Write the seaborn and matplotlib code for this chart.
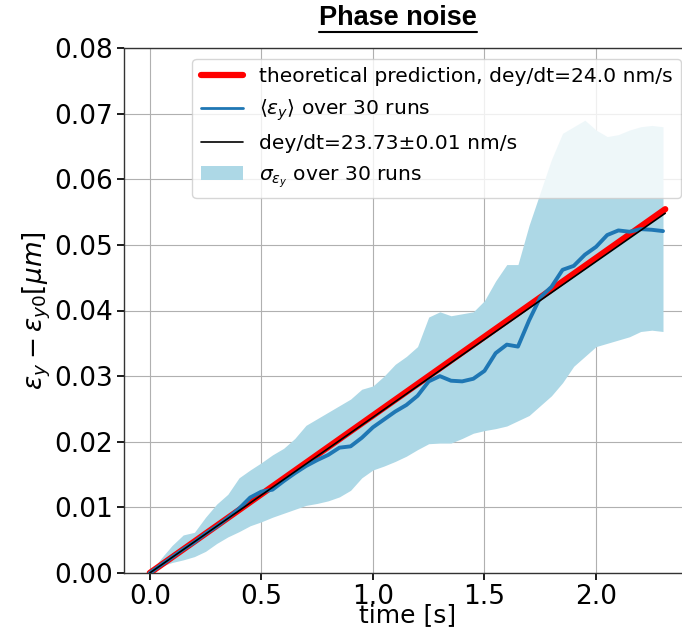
import numpy as np
import pandas as pd
import matplotlib
matplotlib.use("Agg")
import matplotlib.pyplot as plt
import seaborn as sns
from matplotlib.lines import Line2D
from matplotlib.patches import Patch

# ---- data ----
time_s = [0.00, 0.05, 0.10, 0.15, 0.20, 0.25, 0.30, 0.35, 0.40, 0.45,
          0.50, 0.55, 0.60, 0.65, 0.70, 0.75, 0.80, 0.85, 0.90, 0.95,
          1.00, 1.05, 1.10, 1.15, 1.20, 1.25, 1.30, 1.35, 1.40, 1.45,
          1.50, 1.55, 1.60, 1.65, 1.70, 1.75, 1.80, 1.85, 1.90, 1.95,
          2.00, 2.05, 2.10, 2.15, 2.20, 2.25, 2.30]
mean_eps = [0.0000, 0.0012, 0.0024, 0.0036, 0.0047, 0.0060, 0.0071, 0.0084, 0.0098, 0.0115,
            0.0124, 0.0127, 0.0140, 0.0152, 0.0163, 0.0172, 0.0180, 0.0191, 0.0193, 0.0206,
            0.0222, 0.0234, 0.0246, 0.0256, 0.0270, 0.0292, 0.0300, 0.0293, 0.0292, 0.0296,
            0.0308, 0.0335, 0.0348, 0.0345, 0.0385, 0.0420, 0.0436, 0.0462, 0.0468, 0.0485,
            0.0497, 0.0515, 0.0522, 0.0520, 0.0524, 0.0523, 0.0521]
band_upper = [0.0000, 0.0022, 0.0042, 0.0058, 0.0062, 0.0085, 0.0105, 0.0120, 0.0145, 0.0157,
              0.0168, 0.0180, 0.0190, 0.0205, 0.0225, 0.0235, 0.0245, 0.0255, 0.0265, 0.0280,
              0.0285, 0.0300, 0.0318, 0.0330, 0.0345, 0.0390, 0.0398, 0.0392, 0.0395, 0.0398,
              0.0415, 0.0445, 0.0470, 0.0470, 0.0530, 0.0580, 0.0630, 0.0670, 0.0680, 0.0690,
              0.0675, 0.0665, 0.0668, 0.0675, 0.0680, 0.0682, 0.0680]
band_lower = [0.0000, 0.0010, 0.0016, 0.0020, 0.0025, 0.0033, 0.0045, 0.0055, 0.0063, 0.0072,
              0.0078, 0.0085, 0.0091, 0.0097, 0.0103, 0.0106, 0.0110, 0.0116, 0.0126, 0.0145,
              0.0157, 0.0163, 0.0170, 0.0178, 0.0188, 0.0197, 0.0198, 0.0198, 0.0205, 0.0213,
              0.0217, 0.0220, 0.0224, 0.0232, 0.0240, 0.0255, 0.0270, 0.0290, 0.0315, 0.0330,
              0.0345, 0.0350, 0.0355, 0.0360, 0.0368, 0.0370, 0.0368]
line_t = [0.0, 2.31]
theory_eps = [0.0, 0.05544]   # 24.0 nm/s
fit_eps = [0.0, 0.05482]      # 23.73 nm/s

labels = ["theoretical prediction, dey/dt=24.0 nm/s",
          r"$\langle\epsilon_y\rangle$ over 30 runs",
          "dey/dt=23.73\u00b10.01 nm/s",
          r"$\sigma_{\epsilon_y}$ over 30 runs"]

df = pd.DataFrame({"t": time_s, "mean": mean_eps})
dl = pd.DataFrame({"t": line_t, "theory": theory_eps, "fit": fit_eps})

sns.set_theme(style="ticks", rc={
    "axes.edgecolor": "#333333", "axes.linewidth": 1.0,
    "xtick.direction": "out", "ytick.direction": "out",
    "xtick.major.size": 5, "ytick.major.size": 5,
    "grid.color": "#b0b0b0", "grid.linewidth": 0.8,
    "text.color": "black", "axes.labelcolor": "black",
    "xtick.color": "black", "ytick.color": "black",
})
plt.rcParams["font.family"] = ["DejaVu Sans"]
plt.rcParams["mathtext.fontset"] = "dejavusans"

fig = plt.figure(figsize=(6.82, 6.35), dpi=100)
ax = fig.add_axes([124/682, 62/635, (691-124)/682, (587-62)/635])

ax.fill_between(time_s, band_lower, band_upper, color="lightblue", lw=0, zorder=1)
sns.lineplot(data=dl, x="t", y="theory", ax=ax, color="red", lw=4.5, zorder=2)
sns.lineplot(data=df, x="t", y="mean", ax=ax, color="#1f77b4", lw=2.8, zorder=3)
sns.lineplot(data=dl, x="t", y="fit", ax=ax, color="black", lw=1.2, zorder=4)

ax.set_xlim(-0.1155, 2.4255)
ax.set_ylim(0, 0.08)
ax.set_xticks([0.0, 0.5, 1.0, 1.5, 2.0])
ax.set_yticks(np.arange(0, 0.0801, 0.01))
ax.yaxis.set_major_formatter(matplotlib.ticker.FormatStrFormatter("%.2f"))
ax.grid(True)
ax.tick_params(labelsize=19)
ax.tick_params(axis="x", pad=3)
ax.tick_params(axis="y", pad=3)
ax.set_xlabel("time [s]", fontsize=18, labelpad=-5)
ax.set_ylabel(r"$\epsilon_y-\epsilon_{y0}[\mu m]$", fontsize=19, labelpad=1)
for s in ["top", "right"]:
    ax.spines[s].set_visible(True)

handles = [Line2D([], [], color="red", lw=4.5),
           Line2D([], [], color="#1f77b4", lw=2.0),
           Line2D([], [], color="black", lw=1.2),
           Patch(facecolor="lightblue", edgecolor="none")]
leg = ax.legend(handles, labels, loc="upper left", bbox_to_anchor=(0.11, 0.99),
                fontsize=14.6, framealpha=0.8, handlelength=2.1, borderaxespad=0.3,
                labelspacing=0.55)
leg.set_zorder(10)

t = fig.text(398/682, 1 - 18/635, "Phase noise", ha="center", va="center",
             fontsize=19.5, fontweight="bold", color="black",
             family=["Liberation Sans Narrow", "Liberation Sans", "DejaVu Sans"])
fig.canvas.draw()
bb = t.get_window_extent().transformed(fig.transFigure.inverted())
fig.add_artist(Line2D([bb.x0, bb.x1], [bb.y0 - 0.001, bb.y0 - 0.001],
                      transform=fig.transFigure, color="black", lw=1.5))

fig.savefig("out.png", dpi=100)
